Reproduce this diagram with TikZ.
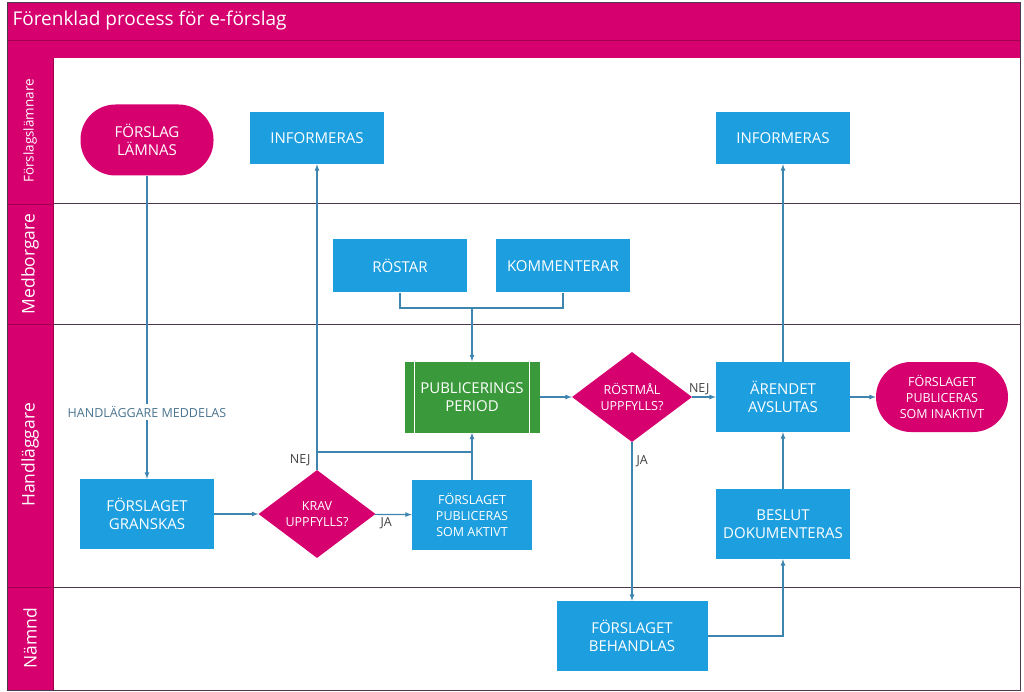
\documentclass[tikz,border=0pt]{standalone}
\usepackage{fontspec}
\setmainfont{Open Sans}
\usepackage{tikz}
\usetikzlibrary{shapes.geometric}

\definecolor{efMagenta}{HTML}{D6006F}
\definecolor{efDark}{HTML}{A0004F}
\definecolor{efBlue}{HTML}{1D9FDF}
\definecolor{efGreen}{HTML}{3A993A}
\definecolor{efLine}{HTML}{3E85B0}
\definecolor{efRule}{HTML}{4D3B4D}
\definecolor{efNote}{HTML}{4A7590}

\begin{document}
\begin{tikzpicture}[x=1pt,y=-1pt,>=latex,
    box/.style={rectangle, fill=efBlue, text=white, align=center,
      minimum width=134pt, minimum height=70pt,
      font=\fontsize{15}{18.5}\selectfont},
    smallbox/.style={box, minimum width=120pt,
      font=\fontsize{12.5}{16}\selectfont},
    term/.style={rectangle, rounded corners=35pt, fill=efMagenta,
      text=white, align=center, minimum width=133pt, minimum height=71pt},
    choice/.style={diamond, fill=efMagenta, text=white, align=center,
      inner sep=0pt, minimum width=118pt, minimum height=88pt,
      font=\fontsize{12.5}{16}\selectfont},
    lane/.style={rotate=90, text=white, font=\fontsize{17.5}{20}\selectfont},
    flow/.style={->, efLine, line width=1.2pt},
    link/.style={efLine, line width=1.2pt},
    lbl/.style={text=black!75, font=\fontsize{12.5}{14}\selectfont, inner sep=2pt}]
  \useasboundingbox (0,0) rectangle (1024,692);
  % Frame and lanes
  \fill[efMagenta] (7,3) rectangle (1020,58);
  \fill[efMagenta] (7,58) rectangle (53,690);
  \draw[efDark] (7,40) -- (1020,40);
  \foreach \y in {204,324,587} {
    \draw[efDark] (7,\y) -- (53,\y);
    \draw[efRule, line width=1pt] (53,\y) -- (1020,\y);
  }
  \draw[efRule, line width=1pt] (7,3) rectangle (1020,690);
  \draw[efDark] (53,58) -- (53,690);
  \node[anchor=west, text=white, font=\fontsize{19}{22}\selectfont] (title) at (9,21) {Förenklad process för e-förslag};
  \node[lane, font=\fontsize{13.5}{15}\selectfont] (laneA) at (30,131) {Förslagslämnare};
  \node[lane] (laneB) at (30,264) {Medborgare};
  \node[lane] (laneC) at (30,455) {Handläggare};
  \node[lane] (laneD) at (30,638) {Nämnd};
  % Steps
  \node[term, font=\fontsize{15}{18.5}\selectfont] (forslag) at (147,140) {FÖRSLAG\\LÄMNAS};
  \node[box, minimum height=52pt] (infoA) at (317,138) {INFORMERAS};
  \node[box, minimum height=52pt] (infoB) at (783,138) {INFORMERAS};
  \node[box, minimum height=53pt] (rostar) at (400,266) {RÖSTAR};
  \node[box, minimum height=53pt] (komm) at (563,266) {KOMMENTERAR};
  \node[box, fill=efGreen, minimum width=135pt, minimum height=71pt] (period) at (472,397) {PUBLICERINGS\\PERIOD};
  \draw[white, line width=1pt] ([xshift=10pt]period.north west) -- ([xshift=10pt]period.south west);
  \draw[white, line width=1pt] ([xshift=-10pt]period.north east) -- ([xshift=-10pt]period.south east);
  \node[choice, minimum width=120pt] (rostmal) at (632,397) {RÖSTMÅL\\UPPFYLLS?};
  \node[box] (avslut) at (783,397) {ÄRENDET\\AVSLUTAS};
  \node[term, minimum width=132pt, minimum height=70pt, font=\fontsize{12.5}{16}\selectfont] (inaktiv) at (942,397) {FÖRSLAGET\\PUBLICERAS\\SOM INAKTIVT};
  \node[box] (gransk) at (147,514) {FÖRSLAGET\\GRANSKAS};
  \node[choice, minimum width=117pt, minimum height=87pt] (krav) at (317,514) {KRAV\\UPPFYLLS?};
  \node[smallbox] (aktiv) at (472,515) {FÖRSLAGET\\PUBLICERAS\\SOM AKTIVT};
  \node[box] (beslut) at (783,524) {BESLUT\\DOKUMENTERAS};
  \node[box, minimum width=151pt] (behandl) at (632,636) {FÖRSLAGET\\BEHANDLAS};
  % Connectors
  \draw[flow] (forslag) -- node[lbl, pos=0.78, fill=white, text=efNote] {HANDLÄGGARE MEDDELAS} (gransk);
  \draw[flow] (gransk) -- (krav);
  \draw[flow] (krav) -- node[lbl, below, pos=0.3] {JA} (aktiv);
  \draw[flow] (krav) -- node[lbl, left, pos=0.03, xshift=-4pt] {NEJ} (infoA);
  \coordinate (joinA) at (317,452);
  \coordinate (joinB) at (472,452);
  \draw[link] (joinA) -- (joinB);
  \draw[flow] (aktiv) -- (period);
  \coordinate (vote) at (472,308);
  \draw[link] (rostar.south) |- (vote) -| (komm.south);
  \draw[flow] (vote) -- (period);
  \draw[flow] (period) -- (rostmal);
  \draw[flow] (rostmal) -- node[lbl, above, pos=0.3] {NEJ} (avslut);
  \draw[flow] (rostmal) -- node[lbl, right, pos=0.12, xshift=2pt] {JA} (behandl);
  \draw[flow] (behandl.east) -| (beslut.south);
  \draw[flow] (beslut) -- (avslut);
  \draw[flow] (avslut) -- (infoB);
  \draw[flow] (avslut) -- (inaktiv);
\end{tikzpicture}
\end{document}
